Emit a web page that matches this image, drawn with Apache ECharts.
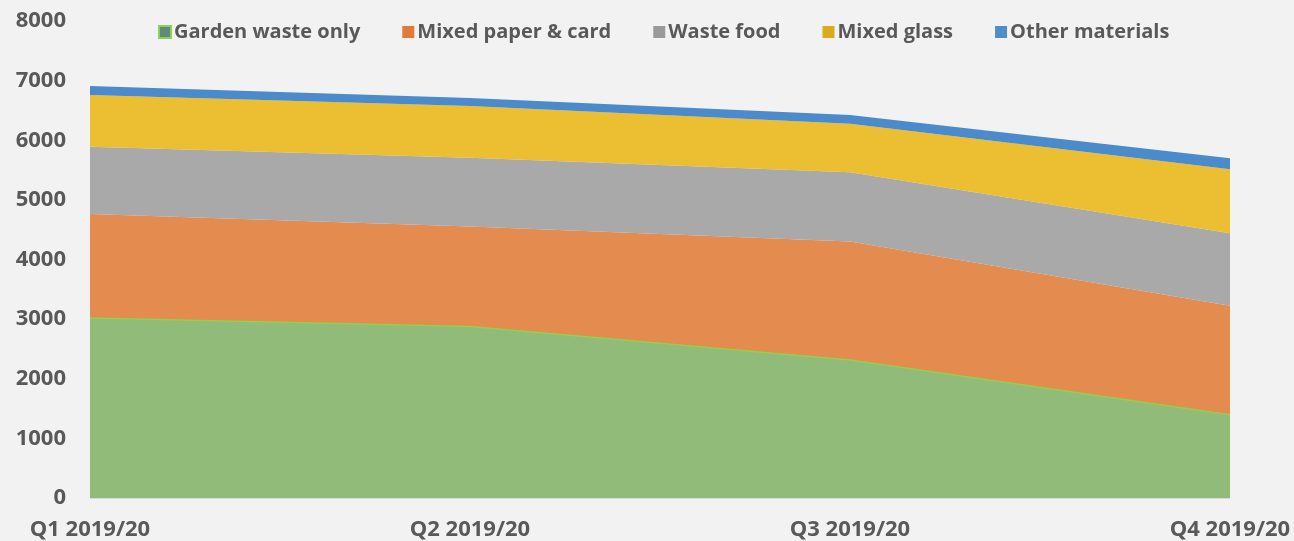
<!DOCTYPE html>
<html>
<head>
<meta charset="utf-8">
<script src="https://cdn.jsdelivr.net/npm/echarts@6/dist/echarts.min.js"></script>
<style>
  html, body { margin: 0; padding: 0; background: #f2f2f2; }
  #chart { width: 1294px; height: 541px; }
</style>
</head>
<body>
<div id="chart"></div>
<script>
// data
const quarters = ['Q1 2019/20', 'Q2 2019/20', 'Q3 2019/20', 'Q4 2019/20']
const gardenWaste = [3020, 2875, 2315, 1395]
const mixedPaper = [1745, 1680, 1985, 1830]
const wasteFood = [1125, 1150, 1165, 1215]
const mixedGlass = [870, 870, 810, 1075]
const otherMaterials = [150, 135, 150, 185]
const yTicks = { min: 0, max: 8000, interval: 1000 }

const textColor = '#595959'
const font = 'Open Sans'

function areaSeries(name, data, color, line) {
  return {
    name: name,
    type: 'line',
    stack: 'total',
    data: data,
    symbol: 'none',
    lineStyle: line ? { color: '#92d050', width: 1.5 } : { width: 0 },
    areaStyle: { color: color, opacity: 1 },
    itemStyle: { color: color },
    emphasis: { disabled: true }
  }
}

const chart = echarts.init(document.getElementById('chart'))
chart.setOption({
  backgroundColor: '#f2f2f2',
  animation: false,
  textStyle: { fontFamily: font },
  legend: {
    top: 17,
    left: 153,
    itemWidth: 12,
    itemHeight: 12,
    itemGap: 42,
    icon: 'rect',
    textStyle: { color: textColor, fontSize: 20, fontWeight: 'bold', fontFamily: font, padding: [0, 0, 0, -2] },
    data: [
      { name: 'Garden waste only', itemStyle: { color: '#5f8a84', borderColor: '#8fd14f', borderWidth: 2 } },
      { name: 'Mixed paper & card', itemStyle: { color: '#e07b39' } },
      { name: 'Waste food', itemStyle: { color: '#9a9a9a' } },
      { name: 'Mixed glass', itemStyle: { color: '#dcab1b' } },
      { name: 'Other materials', itemStyle: { color: '#4e8fcb' } }
    ]
  },
  grid: { left: 90, right: 64, top: 21, bottom: 43 },
  xAxis: {
    type: 'category',
    data: quarters,
    boundaryGap: false,
    axisLine: { lineStyle: { color: '#d9d9d9', width: 1 } },
    axisTick: { show: false },
    axisLabel: { color: textColor, fontSize: 22, fontWeight: 'bold', fontFamily: font, margin: 21 }
  },
  yAxis: {
    type: 'value',
    min: yTicks.min,
    max: yTicks.max,
    interval: yTicks.interval,
    splitLine: { show: false },
    axisLine: { show: false },
    axisTick: { show: false },
    axisLabel: {
      color: textColor, fontSize: 22, fontWeight: 'bold', fontFamily: font, margin: 24,
      formatter: function (v) { return String(v) }
    }
  },
  series: [
    areaSeries('Garden waste only', gardenWaste, '#91bb78', true),
    areaSeries('Mixed paper & card', mixedPaper, '#e48b4f'),
    areaSeries('Waste food', wasteFood, '#a9a9a9'),
    areaSeries('Mixed glass', mixedGlass, '#ecbe31'),
    areaSeries('Other materials', otherMaterials, '#4b8bcb')
  ]
})
</script>
</body>
</html>
